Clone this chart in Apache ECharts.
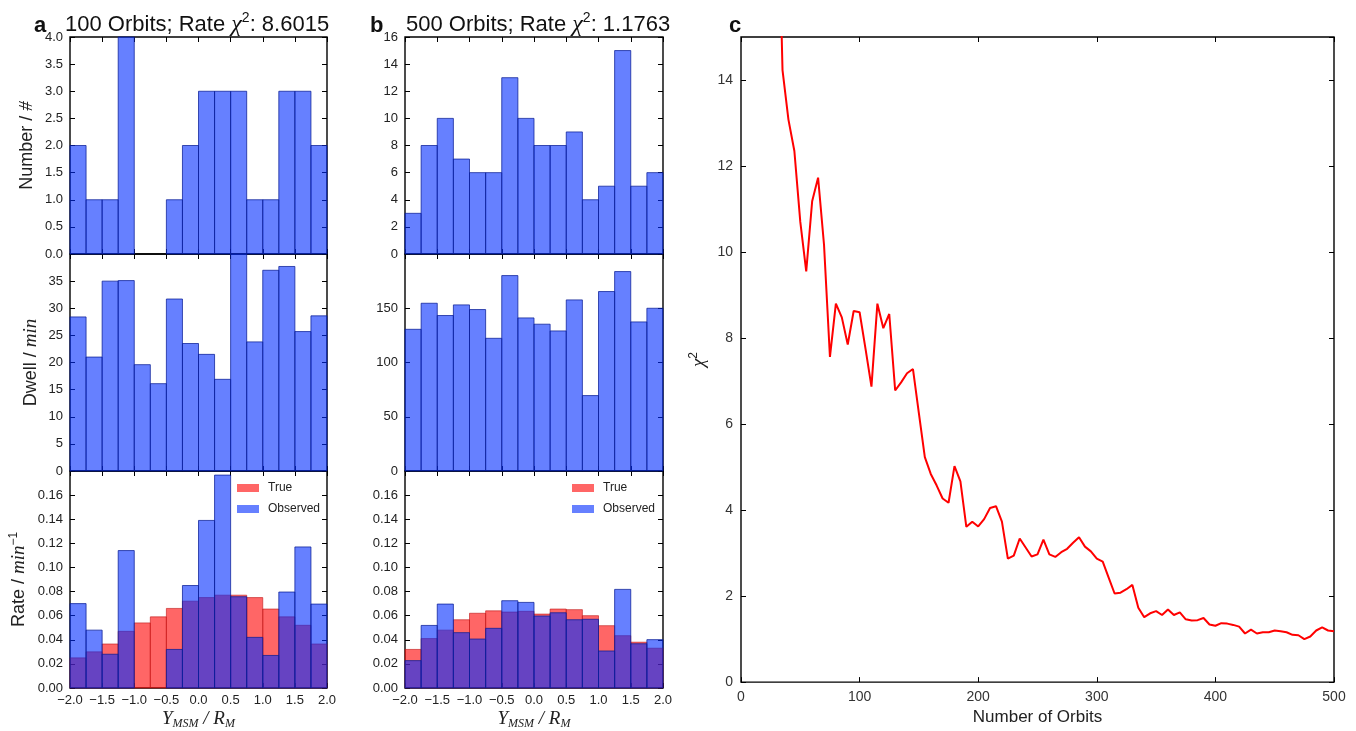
<!DOCTYPE html>
<html><head><meta charset="utf-8">
<script src="https://cdn.jsdelivr.net/npm/echarts@6/dist/echarts.min.js"></script>
<style>html,body{margin:0;padding:0;background:#fff}#main{width:1356px;height:731px}</style>
</head><body><div id="main"></div>
<script>
// ---------- data ----------
const binEdges = [-2.0,-1.75,-1.5,-1.25,-1.0,-0.75,-0.5,-0.25,0.0,0.25,0.5,0.75,1.0,1.25,1.5,1.75,2.0];

const numberA   = [2,1,1,4,0,0,1,2,3,3,3,1,1,3,3,2];
const dwellA    = [28.4,21.0,35.0,35.1,19.6,16.1,31.7,23.5,21.5,16.9,40.5,23.8,37.0,37.7,25.7,28.6];
const rateTrueA = [0.025,0.030,0.0365,0.047,0.054,0.059,0.066,0.072,0.075,0.077,0.077,0.075,0.0655,0.059,0.052,0.0365];
const rateObsA  = [0.070,0.048,0.028,0.114,0,0,0.032,0.085,0.139,0.1766,0.0757,0.042,0.027,0.0796,0.117,0.0696];

const numberB   = [3,8,10,7,6,6,13,10,8,8,9,4,5,15,5,6];
const dwellB    = [130.6,154.6,143.3,153.1,148.8,122.3,180.1,141.1,135.3,129.1,157.7,69.5,165.4,183.8,137.4,150.0];
const rateTrueB = [0.032,0.041,0.048,0.0566,0.062,0.064,0.063,0.0636,0.0613,0.0655,0.065,0.060,0.0517,0.0434,0.038,0.033];
const rateObsB  = [0.0227,0.0519,0.0696,0.0459,0.0406,0.0495,0.0724,0.0710,0.0597,0.0624,0.0566,0.057,0.0307,0.0818,0.0367,0.0401];

const orbits = [30,35,40,45,50,55,60,65,70,75,80,85,90,95,100,105,110,115,120,125,130,135,140,145,150,
  155,160,165,170,175,180,185,190,195,200,205,210,215,220,225,230,235,240,245,250,255,260,265,270,275,
  280,285,290,295,300,305,310,315,320,325,330,335,340,345,350,355,360,365,370,375,380,385,390,395,400,
  405,410,415,420,425,430,435,440,445,450,455,460,465,470,475,480,485,490,495,500];
const chi2 = [20,14.23,13.08,12.35,10.7,9.55,11.18,11.73,10.17,7.56,8.80,8.48,7.85,8.63,8.60,7.75,6.87,8.80,8.23,8.56,6.78,6.97,7.18,7.28,6.25,
  5.23,4.84,4.57,4.27,4.17,5.02,4.67,3.61,3.73,3.62,3.79,4.05,4.09,3.73,2.87,2.94,3.34,3.13,2.92,2.97,3.31,2.97,2.91,3.02,3.10,
  3.24,3.37,3.15,3.04,2.87,2.80,2.43,2.06,2.08,2.16,2.26,1.73,1.51,1.60,1.65,1.56,1.69,1.56,1.62,1.46,1.43,1.44,1.49,1.34,1.31,
  1.37,1.36,1.33,1.29,1.13,1.22,1.13,1.16,1.16,1.20,1.18,1.16,1.10,1.09,1.00,1.06,1.20,1.27,1.20,1.18];

const xTicksHist = ['−2.0','−1.5','−1.0','−0.5','0.0','0.5','1.0','1.5','2.0'];

// ---------- styling ----------
const BLUE = 'rgba(0,43,255,0.6)';
const BLUE_EDGE = 'rgba(10,30,150,0.75)';
const RED = 'rgba(255,0,0,0.6)';
const RED_EDGE = 'rgba(190,20,20,0.6)';
const SANS = 'Liberation Sans, Arial, sans-serif';
const SERIF = 'Liberation Serif, DejaVu Serif, serif';
const NARROW = 'Liberation Sans Narrow, Liberation Sans, Arial, sans-serif';

const grids = [
  {left:70, top:37, width:257, height:217},
  {left:70, top:254, width:257, height:217},
  {left:70, top:471, width:257, height:218},
  {left:405, top:37, width:258, height:217},
  {left:405, top:254, width:258, height:217},
  {left:405, top:471, width:258, height:218},
  {left:741, top:37, width:593, height:652}
].map(g => Object.assign({show:true, borderColor:'#000', borderWidth:1.4, backgroundColor:'transparent'}, g));

const ySpecs = [
  {max:4, interval:0.5, fmt:v=>v.toFixed(1), showMax:true},
  {max:40, interval:5, fmt:v=>String(Math.round(v)), showMax:false},
  {max:0.18, interval:0.02, fmt:v=>v.toFixed(2), showMax:false},
  {max:16, interval:2, fmt:v=>String(Math.round(v)), showMax:true},
  {max:200, interval:50, fmt:v=>String(Math.round(v)), showMax:false},
  {max:0.18, interval:0.02, fmt:v=>v.toFixed(2), showMax:false},
  {max:15, interval:2, fmt:v=>String(Math.round(v)), showMax:false}
];

const tickStyle = {show:true, inside:true, length:5, lineStyle:{color:'#000', width:1}};
const noLine = {show:false, onZero:false};
const labelBase = {color:'#222', fontSize:13, fontFamily:SANS};

const xAxes = [], yAxes = [];
for (let g = 0; g < 7; g++) {
  const isC = g === 6;
  const showX = (g === 2 || g === 5 || isC);
  const xBase = isC ? {min:0, max:500, interval:100} : {min:-2, max:2, interval:0.5};
  xAxes.push(Object.assign({
    type:'value', gridIndex:g, position:'bottom', splitLine:{show:false},
    axisLine:noLine, axisTick:tickStyle,
    axisLabel: showX ? Object.assign({}, labelBase, isC ? {fontFamily:NARROW, fontSize:14, color:'#333', margin:8} : {margin:6},
      {formatter: isC ? (v=>String(v)) : (v=>xTicksHist[Math.round((v+2)/0.5)])}) : {show:false}
  }, xBase));
  xAxes.push(Object.assign({
    type:'value', gridIndex:g, position:'top', splitLine:{show:false},
    axisLine:noLine, axisTick:tickStyle, axisLabel:{show:false}
  }, xBase));
  const s = ySpecs[g];
  yAxes.push({
    type:'value', gridIndex:g, position:'left', min:0, max:s.max, interval:s.interval,
    splitLine:{show:false}, axisLine:noLine, axisTick:tickStyle,
    axisLabel: Object.assign({}, labelBase, isC ? {fontFamily:NARROW, fontSize:14, color:'#333'} : {},
      {formatter:s.fmt, showMaxLabel:s.showMax, margin: isC ? 8 : 7})
  });
  yAxes.push({
    type:'value', gridIndex:g, position:'right', min:0, max:s.max, interval:s.interval,
    splitLine:{show:false}, axisLine:noLine, axisTick:tickStyle, axisLabel:{show:false}
  });
}

// axis names
const nameRich = {
  n:{fontFamily:SANS, fontSize:18, color:'#222', lineHeight:22},
  m:{fontFamily:SERIF, fontStyle:'italic', fontSize:19, color:'#222', lineHeight:22},
  s:{fontFamily:SANS, fontSize:12, color:'#222', verticalAlign:'top', lineHeight:22},
  sub:{fontFamily:SERIF, fontStyle:'italic', fontSize:12, color:'#222', verticalAlign:'bottom', lineHeight:22}
};
function setYName(idx, txt, gap) {
  Object.assign(yAxes[idx], {name:txt, nameLocation:'middle', nameGap:gap, nameRotate:90,
    nameTextStyle:{rich:nameRich, fontSize:18, color:'#222'}});
}
setYName(0, '{n|Number / }{m|#}', 32);
setYName(2, '{n|Dwell / }{m|min}', 28);
setYName(4, '{n|Rate / }{m|min}{s|−1}', 40);
function setXName(idx, gap) {
  Object.assign(xAxes[idx], {name:'{m|Y}{sub|MSM}{m| / R}{sub|M}', nameLocation:'middle', nameGap:gap,
    nameTextStyle:{rich:nameRich, fontSize:18, color:'#222'}});
}
setXName(4, 20);
setXName(10, 20);
Object.assign(xAxes[12], {name:'Number of Orbits', nameLocation:'middle', nameGap:22,
  nameTextStyle:{fontFamily:NARROW, fontSize:17, color:'#222'}});
Object.assign(yAxes[12], {name:'{m|χ}{s|2}', nameLocation:'middle', nameGap:31, nameRotate:90,
  nameTextStyle:{rich:nameRich, fontSize:18, color:'#222'}});

// ---------- histogram via custom series ----------
function histData(vals) {
  return vals.map((v, i) => [binEdges[i], binEdges[i+1], v]);
}
function histRender(fill, stroke) {
  return function (params, api) {
    const x0 = api.value(0), x1 = api.value(1), v = api.value(2);
    if (!(v > 0)) return;
    const p0 = api.coord([x0, 0]);
    const p1 = api.coord([x1, v]);
    const cs = params.coordSys;
    const rect = echarts.graphic.clipRectByRect(
      {x:p0[0], y:p1[1], width:p1[0]-p0[0], height:p0[1]-p1[1]},
      {x:cs.x, y:cs.y, width:cs.width, height:cs.height});
    if (!rect) return;
    return {type:'rect', shape:rect, style:{fill:fill, stroke:stroke, lineWidth:1}};
  };
}
function hist(name, vals, g, fill, stroke) {
  return {
    type:'custom', name:name, xAxisIndex:2*g, yAxisIndex:2*g,
    renderItem:histRender(fill, stroke), data:histData(vals),
    encode:{x:[0,1], y:2}, itemStyle:{color:fill}, animation:false, silent:true
  };
}

const series = [
  hist('NumberA', numberA, 0, BLUE, BLUE_EDGE),
  hist('DwellA', dwellA, 1, BLUE, BLUE_EDGE),
  hist('True', rateTrueA, 2, RED, RED_EDGE),
  hist('Observed', rateObsA, 2, BLUE, BLUE_EDGE),
  hist('NumberB', numberB, 3, BLUE, BLUE_EDGE),
  hist('DwellB', dwellB, 4, BLUE, BLUE_EDGE),
  hist('True', rateTrueB, 5, RED, RED_EDGE),
  hist('Observed', rateObsB, 5, BLUE, BLUE_EDGE),
  {
    type:'line', name:'chi2', xAxisIndex:12, yAxisIndex:12,
    data:orbits.map((o, i) => [o, chi2[i]]), showSymbol:false, symbol:'none',
    lineStyle:{color:'#ff0000', width:2}, itemStyle:{color:'#ff0000'}, clip:true, animation:false
  }
];

const titleRich = {
  n:{fontFamily:SANS, fontSize:22, fontWeight:'normal', color:'#111', lineHeight:28},
  m:{fontFamily:SERIF, fontStyle:'italic', fontWeight:'normal', fontSize:24, color:'#111', lineHeight:28},
  s:{fontFamily:SANS, fontSize:14, fontWeight:'normal', color:'#111', verticalAlign:'top', lineHeight:28}
};
const boldLetter = {fontFamily:SANS, fontSize:22, fontWeight:'bold', color:'#111'};

const legendBase = {
  orient:'vertical', itemWidth:22, itemHeight:8, itemGap:9, padding:0, icon:'rect',
  selectedMode:false, data:['True','Observed'],
  textStyle:{fontFamily:SANS, fontSize:12, color:'#222', padding:[0,0,0,4]}
};

const option = {
  backgroundColor:'#fff',
  animation:false,
  title:[
    {text:'a', left:29, top:10, textStyle:boldLetter},
    {text:'{n|100 Orbits; Rate }{m|χ}{s|2}{n|: 8.6015}', left:60, top:6, textStyle:{fontWeight:'normal', rich:titleRich}},
    {text:'b', left:365, top:10, textStyle:boldLetter},
    {text:'{n|500 Orbits; Rate }{m|χ}{s|2}{n|: 1.1763}', left:401, top:6, textStyle:{fontWeight:'normal', rich:titleRich}},
    {text:'c', left:724, top:10, textStyle:boldLetter}
  ],
  legend:[
    Object.assign({left:237, top:482}, legendBase),
    Object.assign({left:572, top:482}, legendBase)
  ],
  grid:grids,
  xAxis:xAxes,
  yAxis:yAxes,
  series:series
};

const chart = echarts.init(document.getElementById('main'), null, {renderer:'canvas'});
chart.setOption(option);
</script>
</body></html>
